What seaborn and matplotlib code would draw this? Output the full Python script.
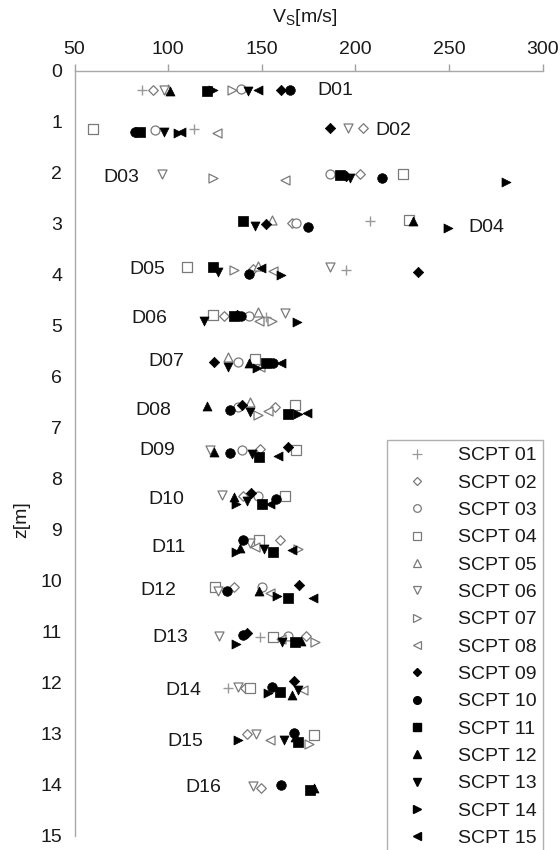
import numpy as np
import pandas as pd
import matplotlib
matplotlib.use("Agg")
import matplotlib.pyplot as plt
from matplotlib.lines import Line2D
import seaborn as sns

n = np.nan
depth_labels = ["D01", "D02", "D03", "D04", "D05", "D06", "D07", "D08",
                "D09", "D10", "D11", "D12", "D13", "D14", "D15", "D16"]
label_vs = [189, 220, 75, 270, 89, 90, 99, 92, 94, 99, 100, 95, 101, 108, 109, 119]
label_z = [0.38, 1.18, 2.09, 3.07, 3.89, 4.86, 5.70, 6.66, 7.44, 8.40, 9.34, 10.18, 11.10, 12.14, 13.14, 14.04]

series_names = ["SCPT 01", "SCPT 02", "SCPT 03", "SCPT 04", "SCPT 05", "SCPT 06", "SCPT 07", "SCPT 08",
                "SCPT 09", "SCPT 10", "SCPT 11", "SCPT 12", "SCPT 13", "SCPT 14", "SCPT 15"]

# Vs values per SCPT (D01..D16), nan = no point
vs01 = [86, 114, n, 208, 195, 152.5, n, n, n, n, n, n, 149, 132, n, n]
vs02 = [92, 204, 202.5, 166, 145.5, 130, n, 157, 149, 140, 159.5, 135, 173.5, 141, 142, 149.5]
vs03 = [139, 93, 186.5, 168.5, n, 143, 137.5, 137.5, 139.5, 148, n, 150, 164, n, n, n]
vs04 = [n, 60, 225.5, 228.5, 110, 124, 146.5, 167.5, 168.5, 162.5, 148.5, 125, 156, 143.5, 178, n]
vs05 = [100, n, n, 155.5, 148, 148, 132, 143.5, n, n, n, n, n, n, n, n]
vs06 = [98, 196, 96.5, n, 186.5, 162.5, n, n, 122.5, 128.5, 143.5, 126.5, 127, 137.5, 147, 145.5]
vs07 = [134, n, 124, n, 135, 155.5, n, 148, n, n, 169.5, n, 178.5, n, 175, n]
vs08 = [n, 126, 162.5, n, 156, 148.5, 149, 153.5, n, n, 146.5, 154.5, 160.5, 172, 154.5, n]
vs09 = [160.5, 186.5, 195, 152, 233.5, 137, 124.5, 139.5, 164, 144, n, 170, 142, 167, n, n]
vs10 = [165, 82.5, 214, 174.5, 143, 139, 156, 133, 133, 157.5, 140, 131.5, 140, 155.5, 167, 160.5]
vs11 = [121, 85, 192, 140, 124, 135, 152.5, 164, 148.5, 150, 156, 164, 167.5, 159.5, 169.5, 176]
vs12 = [101, n, n, 230.5, n, n, 143, 121, 124.5, 135, 138.5, 148.5, 171, 166, 167.5, 178]
vs13 = [142.5, 98, 197, 146.5, 126.5, 119, 132, 143.5, 145, 142, 151, n, 161, 169.5, 162, n]
vs14 = [124, 105, 280.5, 249.5, 160, 169, 147.5, 169.5, n, 136.5, 136.5, 158, 136.5, 153.5, 137.5, n]
vs15 = [148, 107, n, n, 149.5, n, 160, 174, 158.5, 154.5, 166, 177.5, n, n, n, n]

# depth z [m] of each point (D01..D16)
z01 = [0.38, 1.15, n, 2.95, 3.90, 4.82, n, n, n, n, n, n, 11.10, 12.10, n, n]
z02 = [0.38, 1.12, 2.02, 2.98, 3.88, 4.80, n, 6.60, 7.42, 8.33, 9.20, 10.12, 11.08, 12.10, 13.00, 14.05]
z03 = [0.36, 1.17, 2.03, 2.98, n, 4.80, 5.70, 6.60, 7.43, 8.33, n, 10.12, 11.08, n, n, n]
z04 = [n, 1.15, 2.03, 2.93, 3.85, 4.78, 5.65, 6.55, 7.43, 8.33, 9.20, 10.12, 11.10, 12.10, 13.02, n]
z05 = [0.36, n, n, 2.92, 3.82, 4.72, 5.62, 6.50, n, n, n, n, n, n, n, n]
z06 = [0.37, 1.12, 2.03, n, 3.85, 4.75, n, n, 7.43, 8.31, 9.25, 10.20, 11.08, 12.07, 13.00, 14.02]
z07 = [0.38, n, 2.11, n, 3.90, 4.90, n, 6.75, n, n, 9.38, n, 11.20, n, 13.20, n]
z08 = [n, 1.22, 2.15, n, 3.92, 4.90, 5.80, 6.67, n, n, 9.33, 10.23, 11.13, 12.13, 13.11, n]
z09 = [0.37, 1.12, 2.07, 3.00, 3.95, 4.78, 5.70, 6.55, 7.38, 8.28, n, 10.09, 11.02, 11.97, n, n]
z10 = [0.38, 1.20, 2.10, 3.06, 3.98, 4.80, 5.72, 6.65, 7.50, 8.40, 9.20, 10.20, 11.07, 12.07, 12.98, 14.00]
z11 = [0.39, 1.20, 2.05, 2.95, 3.85, 4.80, 5.72, 6.72, 7.58, 8.50, 9.43, 10.33, 11.20, 12.17, 13.15, 14.10]
z12 = [0.39, n, n, 2.95, n, n, 5.72, 6.58, 7.47, 8.36, 9.35, 10.20, 11.17, 12.23, 13.05, 14.05]
z13 = [0.39, 1.21, 2.10, 3.05, 3.95, 4.90, 5.80, 6.68, 7.52, 8.43, 9.37, n, 11.20, 12.13, 13.11, n]
z14 = [0.38, 1.22, 2.18, 3.09, 4.00, 4.92, 5.83, 6.72, n, 8.50, 9.43, 10.30, 11.23, 12.20, 13.11, n]
z15 = [0.38, 1.20, n, n, 3.86, n, 5.72, 6.70, 7.56, 8.50, 9.40, 10.33, n, n, n, n]

vs_all = [vs01, vs02, vs03, vs04, vs05, vs06, vs07, vs08, vs09, vs10, vs11, vs12, vs13, vs14, vs15]
z_all = [z01, z02, z03, z04, z05, z06, z07, z08, z09, z10, z11, z12, z13, z14, z15]

markers = ["+", "D", "o", "s", "^", "v", ">", "<", "D", "o", "s", "^", "v", ">", "<"]
sizes = [60, 24, 42, 42, 42, 42, 42, 42, 28, 48, 48, 42, 42, 42, 42]
hollow = [True] * 8 + [False] * 7
GRAY = "#7a7a7a"

sns.set_theme(style="white")
plt.rcParams["font.family"] = ["Liberation Sans", "DejaVu Sans"]
plt.rcParams["mathtext.fontset"] = "custom"
plt.rcParams["mathtext.rm"] = "Liberation Sans"
plt.rcParams["mathtext.it"] = "Liberation Sans"

FS = 14
fig = plt.figure(figsize=(5.6, 8.5), dpi=100)
ax = fig.add_axes([74.5 / 560, 1 - 836 / 850, (542.7 - 74.5) / 560, (836 - 70.7) / 850])

for i, name in enumerate(series_names):
    df = pd.DataFrame({"Vs": vs_all[i], "z": z_all[i]}).dropna()
    if markers[i] == "+":
        sns.scatterplot(data=df, x="Vs", y="z", marker="+", s=sizes[i], color="#999999",
                        linewidth=1.0, ax=ax, legend=False, zorder=3)
    elif hollow[i]:
        sns.scatterplot(data=df, x="Vs", y="z", marker=markers[i], s=sizes[i], facecolor="white",
                        edgecolor=GRAY, linewidth=0.9, ax=ax, legend=False, zorder=3)
    else:
        sns.scatterplot(data=df, x="Vs", y="z", marker=markers[i], s=sizes[i], color="black",
                        edgecolor="black", linewidth=0.5, ax=ax, legend=False, zorder=4)

for lab, xv, zv in zip(depth_labels, label_vs, label_z):
    ax.text(xv, zv, lab, ha="center", va="center", fontsize=FS, color="#1a1a1a")

ax.set_xlim(50, 300)
ax.set_ylim(15, 0)
ax.set_xticks([50, 100, 150, 200, 250, 300])
ax.set_yticks(range(0, 16))
ax.xaxis.tick_top()
ax.xaxis.set_label_position("top")
ax.tick_params(axis="both", which="major", labelsize=FS, colors="#a0a0a0",
               labelcolor="#1a1a1a", length=5, width=1, direction="out", pad=4)
for side in ["right", "bottom"]:
    ax.spines[side].set_visible(False)
for side in ["left", "top"]:
    ax.spines[side].set_color("#a8a8a8")
    ax.spines[side].set_linewidth(1.0)
ax.set_xlabel(r"V$_{\mathrm{S}}$[m/s]", fontsize=FS, color="#1a1a1a", labelpad=4)
ax.xaxis.set_label_coords((305 - 74.5) / (542.7 - 74.5), 1.0 + (70.7 - 18) / 765.3)
ax.set_ylabel("z[m]", fontsize=FS, color="#1a1a1a")
ax.yaxis.set_label_coords(-(74.5 - 22) / (542.7 - 74.5), (836 - 520) / (836 - 70.7))
ax.yaxis.label.set_va("center")
ax.xaxis.label.set_va("center")
ax.grid(False)

handles = []
for i, name in enumerate(series_names):
    if markers[i] == "+":
        h = Line2D([], [], linestyle="none", marker="+", markersize=7, color="#999999", markeredgewidth=0.9)
    elif hollow[i]:
        h = Line2D([], [], linestyle="none", marker=markers[i], markersize=5.5 if markers[i] != "D" else 4.5,
                   markerfacecolor="white", markeredgecolor=GRAY, markeredgewidth=0.9)
    else:
        h = Line2D([], [], linestyle="none", marker=markers[i], markersize=5.5 if markers[i] != "D" else 4.5,
                   markerfacecolor="black", markeredgecolor="black")
    handles.append(h)

leg = fig.legend(handles, series_names, loc="upper right",
                 bbox_to_anchor=(543.3 / 560, 1 - 440 / 850), fontsize=FS,
                 frameon=True, fancybox=False, edgecolor="#b0b0b0", framealpha=1,
                 handlelength=2.4, handletextpad=0.9, labelspacing=0.5, borderpad=0.35,
                 borderaxespad=0)
leg.get_frame().set_linewidth(1.0)
for t in leg.get_texts():
    t.set_color("#1a1a1a")

fig.savefig("out.png", dpi=100)
